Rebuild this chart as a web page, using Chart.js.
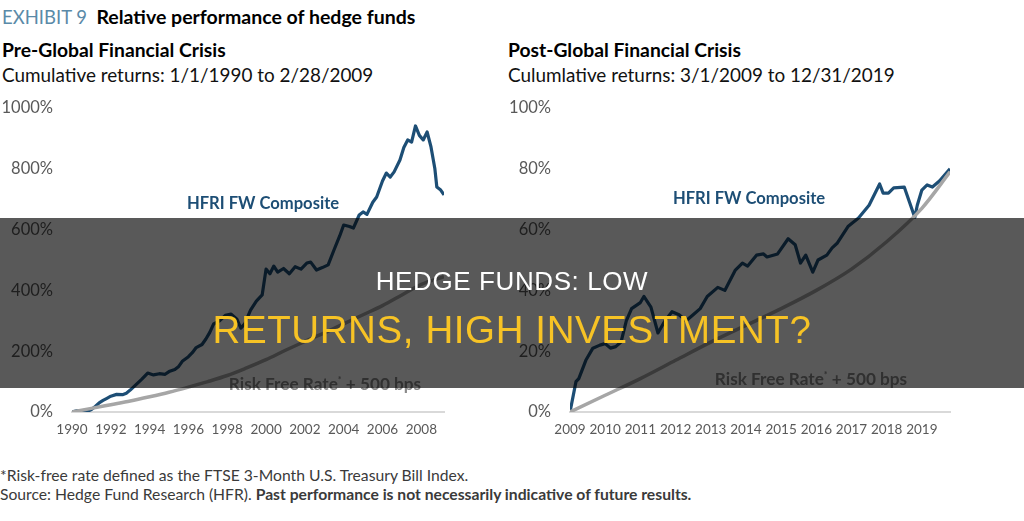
<!DOCTYPE html>
<html>
<head>
<meta charset="utf-8">
<script src="https://cdn.jsdelivr.net/npm/chart.js@4.4.1/dist/chart.umd.min.js"></script>
<style>
  html, body { margin:0; padding:0; background:#fff; }
  body { width:1024px; height:521px; position:relative; overflow:hidden; font-family: Lato, "Open Sans", sans-serif; }
  .abs { position:absolute; white-space:nowrap; }
  canvas { position:absolute; }
  .t1 { font-size:19.3px; color:#000; }
  .sub { font-size:18.9px; color:#111; }
  .lab { font-weight:bold; font-size:16.6px; color:#1d4e75; transform:translate(-50%,-50%); }
  .rfr { font-weight:bold; font-size:17.2px; color:#8a8a8a; transform:translate(-50%,-50%); }
  .foot { font-size:15.7px; color:#3a3a3a; }
  #overlay { position:absolute; left:0; top:218px; width:1024px; height:170px; background:rgba(0,0,0,0.65); }
  .ban { position:absolute; left:0; width:1024px; text-align:center; font-family:"Liberation Sans", Arial, sans-serif; transform:translateY(-50%); }
</style>
</head>
<body>
<div class="abs" style="left:2px; top:5px; font-size:18.5px;"><span style="color:#5a8aa8;">EXHIBIT 9</span>&nbsp; <b style="font-size:19.5px;">Relative performance of hedge funds</b></div>
<div class="abs t1" style="left:2px; top:38px;"><b>Pre-Global Financial Crisis</b></div>
<div class="abs sub" style="left:2px; top:63px;">Cumulative returns: 1/1/1990 to 2/28/2009</div>
<div class="abs t1" style="left:508px; top:38px;"><b>Post-Global Financial Crisis</b></div>
<div class="abs sub" style="left:508px; top:63px;">Culumlative returns: 3/1/2009 to 12/31/2019</div>

<canvas id="c1" width="470" height="350" style="left:0px; top:90px;"></canvas>
<canvas id="c2" width="477" height="350" style="left:498px; top:90px;"></canvas>

<div class="abs lab" style="left:263px; top:203px;">HFRI FW Composite</div>
<div class="abs lab" style="left:749px; top:198px;">HFRI FW Composite</div>
<div class="abs rfr" style="left:325px; top:383px;">Risk Free Rate<sup style="font-size:9px;">*</sup> + 500 bps</div>
<div class="abs rfr" style="left:811px; top:378px;">Risk Free Rate<sup style="font-size:9px;">*</sup> + 500 bps</div>

<div class="abs foot" style="left:0px; top:466px;">*Risk-free rate defined as the FTSE 3-Month U.S. Treasury Bill Index.</div>
<div class="abs foot" style="left:0px; top:485px;">Source: Hedge Fund Research (HFR). <b>Past performance is not necessarily indicative of future results.</b></div>

<div id="overlay"></div>
<div class="ban" style="top:281px; font-size:26px; color:#fff; letter-spacing:0.6px;">HEDGE FUNDS: LOW</div>
<div class="ban" style="top:330px; font-size:38.5px; color:#f7c325; letter-spacing:0.6px;">RETURNS, HIGH INVESTMENT?</div>

<script>
// ---- Pre-GFC data (fractional years, cumulative return %) ----
const preHfriYears = [1990.0,1990.25,1990.5,1990.75,1991.0,1991.2,1991.4,1991.6,1991.8,1992.0,1992.3,1992.6,1992.8,1993.0,1993.3,1993.6,1993.9,1994.2,1994.5,1994.8,1995.0,1995.3,1995.5,1995.7,1996.0,1996.2,1996.4,1996.7,1996.9,1997.1,1997.3,1997.6,1997.9,1998.2,1998.5,1998.7,1998.9,1999.2,1999.5,1999.8,2000.0,2000.2,2000.4,2000.6,2000.9,2001.2,2001.5,2001.8,2002.1,2002.3,2002.6,2002.9,2003.2,2003.5,2003.8,2004.0,2004.3,2004.5,2004.8,2005.0,2005.2,2005.5,2005.7,2006.0,2006.2,2006.4,2006.6,2006.9,2007.1,2007.3,2007.5,2007.7,2007.9,2008.1,2008.3,2008.5,2008.7,2008.8,2009.0,2009.17];
const preHfri = [0,4,2,1,8,18,30,38,45,52,58,57,62,72,90,108,128,122,126,124,133,140,150,168,182,195,212,222,240,262,290,300,318,322,305,276,290,335,365,385,470,455,480,460,472,455,478,470,490,493,467,475,484,533,580,615,610,605,648,658,650,690,707,760,786,773,790,829,870,895,888,941,910,895,921,872,800,740,730,714];
const preRfrYears = [1990,1991,1992,1993,1994,1995,1996,1997,1998,1999,2000,2001,2002,2003,2004,2005,2006,2007,2008,2009.17];
const preRfr = [0,12,24,36,50,65,82,100,120,145,172,203,232,260,290,320,350,385,420,445];
const preYTicks = [0,1000,200];   // min, max, step
const preXTicks = [1990,2009.17,2];

// ---- Post-GFC data ----
const postHfriYears = [2009.0,2009.17,2009.25,2009.45,2009.65,2009.85,2010.0,2010.15,2010.3,2010.45,2010.6,2010.75,2011.0,2011.1,2011.3,2011.5,2011.7,2011.9,2012.1,2012.3,2012.5,2012.7,2012.9,2013.2,2013.4,2013.7,2013.9,2014.05,2014.3,2014.5,2014.6,2014.9,2015.2,2015.4,2015.55,2015.7,2015.9,2016.05,2016.3,2016.45,2016.6,2016.9,2017.2,2017.5,2017.8,2017.9,2018.05,2018.2,2018.5,2018.65,2018.8,2018.87,2019.0,2019.15,2019.3,2019.5,2019.8];
const postHfri = [0,10,11,17,21,22,22.5,21,21.5,23,30,34,36,38,34.5,26,30,33,32,30,32,34,38,41,40,46.7,49,48,51.6,52,51,52,57,55,49,51.6,46,50,51.6,54,55.6,61,63.8,68,75,72,72,73.7,74,69,64,68,73,74.7,74,76,80];
const postRfrYears = [2009,2010,2011,2012,2013,2014,2015,2016,2017,2018,2019,2019.8];
const postRfr = [0,5.5,11,17,23,28.5,34,40,47,56,67,79];
const postYTicks = [0,100,20];
const postXTicks = [2009,2019.8,1];

const HFRI_COLOR = '#1d4e75';
const RFR_COLOR = '#a6a6a6';
const TICK_COLOR = '#595959';

function pts(xs, ys){ return xs.map((x,i)=>({x:x, y:ys[i]})); }

function makeChart(id, hx, hy, rx, ry, yT, xT, padRight){
  return new Chart(document.getElementById(id), {
    type:'line',
    data:{ datasets:[
      { data: pts(rx, ry), borderColor: RFR_COLOR, borderWidth: 3.5, pointRadius: 0, tension: 0.4, cubicInterpolationMode:'monotone' },
      { data: pts(hx, hy), borderColor: HFRI_COLOR, borderWidth: 3.2, pointRadius: 0, tension: 0, borderJoinStyle:'round' }
    ]},
    options:{
      responsive:false, animation:false, devicePixelRatio:1,
      layout:{ padding:{ top:18, right:padRight, left:0, bottom:0 } },
      plugins:{ legend:{display:false}, tooltip:{enabled:false} },
      scales:{
        x:{ type:'linear', min:xT[0], max:xT[1],
            ticks:{ stepSize:xT[2], includeBounds:false, color:TICK_COLOR, padding:10, maxRotation:0, autoSkip:false,
                    font:{family:'Lato', size:13.5}, callback:(v)=>String(v) },
            grid:{ display:false, drawTicks:false },
            border:{ display:true, color:'#d9d9d9', width:2 },
            afterFit:(s)=>{ s.height = 28; } },
        y:{ min:yT[0], max:yT[1],
            ticks:{ stepSize:yT[2], color:TICK_COLOR, padding:19, font:{family:'Lato', size:16.5}, callback:(v)=>v+'%' },
            grid:{ display:false, drawTicks:false },
            border:{ display:false },
            afterFit:(s)=>{ s.width = 72; s.paddingTop = 0; s.paddingBottom = 0; } }
      }
    }
  });
}
makeChart('c1', preHfriYears, preHfri, preRfrYears, preRfr, preYTicks, preXTicks, 26);
makeChart('c2', postHfriYears, postHfri, postRfrYears, postRfr, postYTicks, postXTicks, 25);
</script>
</body>
</html>
